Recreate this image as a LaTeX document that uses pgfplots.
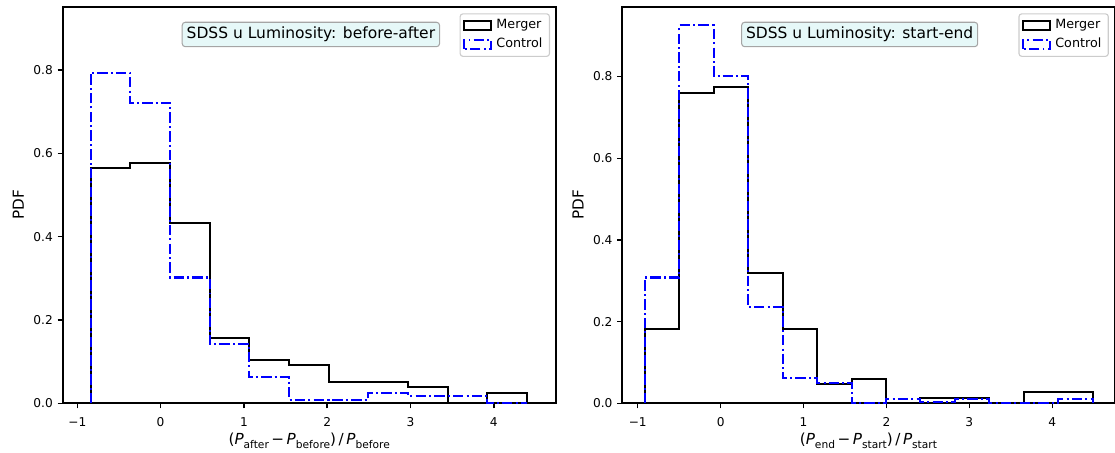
\documentclass[border=0pt]{standalone}
\usepackage{fontspec}
\setmainfont{DejaVu Sans}
\usepackage{pgfplots}
\pgfplotsset{compat=1.18}
\usepackage{pgfplotstable}

\definecolor{boxfill}{RGB}{230,248,248}
\definecolor{boxedge}{RGB}{165,165,165}
\definecolor{legedge}{RGB}{204,204,204}

% subscript in the upright text face
\newcommand{\sub}[1]{\raisebox{-0.22em}{\fontsize{7.7}{8}\selectfont #1}}

% Step outlines: x = right edge of each bin, y = bin height (first row is the left edge)
% before-after, 11 bins
\pgfplotstableread{
x y
-0.8400 0
-0.3636 0.565
0.1128 0.578
0.5892 0.433
1.0656 0.157
1.5420 0.104
2.0184 0.092
2.4948 0.052
2.9712 0.052
3.4476 0.040
3.9240 0.000
4.4004 0.0255
4.4004 0
}\mergerBA
\pgfplotstableread{
x y
-0.8400 0
-0.3636 0.794
0.1128 0.722
0.5892 0.302
1.0656 0.142
1.5420 0.062
2.0184 0.008
2.4948 0.008
2.9712 0.0255
3.4476 0.0175
3.9240 0.0175
4.4004 0.000
4.4004 0
}\controlBA
% start-end, 13 bins
\pgfplotstableread{
x y
-0.9130 0
-0.4976 0.182
-0.0822 0.759
0.3332 0.775
0.7486 0.319
1.1640 0.182
1.5794 0.0465
1.9948 0.059
2.4102 0.000
2.8256 0.014
3.2410 0.014
3.6564 0.000
4.0718 0.0285
4.4872 0.0285
4.4872 0
}\mergerSE
\pgfplotstableread{
x y
-0.9130 0
-0.4976 0.308
-0.0822 0.925
0.3332 0.801
0.7486 0.235
1.1640 0.061
1.5794 0.0505
1.9948 0.000
2.4102 0.0098
2.8256 0.003
3.2410 0.0098
3.6564 0.000
4.0718 0.000
4.4872 0.0098
4.4872 0
}\controlSE

\tikzset{
  infobox/.style={anchor=west, fill=boxfill, draw=boxedge, line width=0.75bp,
    rounded corners=2.2bp, inner xsep=3.2bp, minimum height=17.6bp,
    font=\fontsize{11.2}{13}\selectfont},
}

\pgfplotsset{
  histaxis/.style={
    scale only axis, width=354.96bp, height=285.55bp,
    axis line style={line width=1.4bp, black},
    tick align=outside, xtick pos=bottom, ytick pos=left,
    major tick length=3.6bp,
    every tick/.style={line width=1bp, black},
    ymin=0,
    xtick={-1,0,1,2,3,4}, xticklabels={−1,0,1,2,3,4},
    ytick={0,0.2,0.4,0.6,0.8}, yticklabels={0.0,0.2,0.4,0.6,0.8},
    ticklabel style={font=\fontsize{8.8}{10}\selectfont},
    xticklabel style={yshift=-3bp},
    ylabel={PDF},
    every axis y label/.style={at={(rel axis cs:-0.09,0.5)}, rotate=90, anchor=center,
      font=\fontsize{11}{13}\selectfont},
    every axis x label/.style={at={(rel axis cs:0.5,0)}, anchor=base, yshift=-30bp,
      font=\fontsize{11}{13}\selectfont},
    legend image code/.code={\draw[##1, sharp corners] (0bp,-3.25bp) rectangle (19.7bp,3.25bp);},
    legend cell align=left,
    legend style={at={(rel axis cs:1,1)}, anchor=north east, xshift=-4.1bp, yshift=-4.75bp,
      draw=legedge, line width=0.8bp, rounded corners=2bp, fill=white,
      font=\fontsize{9.2}{11}\selectfont, inner xsep=2bp, inner ysep=1.8bp, row sep=0bp,
      nodes={inner xsep=3bp, inner ysep=2bp, text height=7bp, text depth=2.5bp}},
  },
  merger/.style={black, line width=1.45bp, const plot mark right},
  control/.style={blue, line width=1.45bp, const plot mark right,
    dash pattern=on 7.5bp off 2.3bp on 1.4bp off 2.3bp},
}

\begin{document}
\begin{tikzpicture}
\begin{axis}[histaxis, at={(45.14bp,35.78bp)}, anchor=south west,
  xmin=-1.175, xmax=4.743, ymax=0.952,
  xlabel={(\textit{P}\sub{after}\,−\,\textit{P}\sub{before})\,/\,\textit{P}\sub{before}}]
  \addplot[merger] table {\mergerBA};
  \addplot[control] table {\controlBA};
  \legend{Merger, Control}
  \node[infobox] at (rel axis cs:0.2414,0.93) {SDSS u Luminosity: before-after};
\end{axis}
\begin{axis}[histaxis, at={(448.06bp,35.78bp)}, anchor=south west, width=354.4bp,
  xmin=-1.186, xmax=4.752, ymax=0.971,
  xlabel={(\textit{P}\sub{end}\,−\,\textit{P}\sub{start})\,/\,\textit{P}\sub{start}}]
  \addplot[merger] table {\mergerSE};
  \addplot[control] table {\controlSE};
  \legend{Merger, Control}
  \node[infobox] at (rel axis cs:0.2414,0.93) {SDSS u Luminosity: start-end};
\end{axis}
\pgfresetboundingbox
\path[use as bounding box] (0,0) rectangle (802.8bp,326.16bp);
\end{tikzpicture}
\end{document}
